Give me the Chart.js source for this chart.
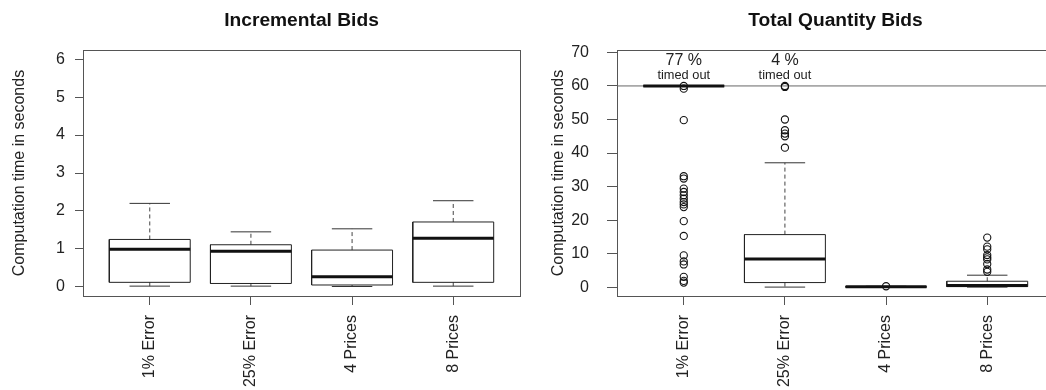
<!DOCTYPE html>
<html>
<head>
<meta charset="utf-8">
<script src="https://cdn.jsdelivr.net/npm/chart.js@4/dist/chart.umd.min.js"></script>
<style>
  html, body { margin: 0; padding: 0; background: #fff; }
  body { width: 1046px; height: 390px; overflow: hidden; position: relative; }
  .panel { position: absolute; top: 0; width: 534px; height: 390px; }
  #left { left: 0; }
  #right { left: 534px; }
</style>
</head>
<body>
<div class="panel" id="left"><canvas id="c1" width="534" height="390"></canvas></div>
<div class="panel" id="right"><canvas id="c2" width="534" height="390"></canvas></div>
<script>
// ---------- DATA ----------
const categories = ['1% Error', '25% Error', '4 Prices', '8 Prices'];

// Incremental Bids (seconds)
const incLower  = [0.02, 0.02, 0.01, 0.02];
const incQ1     = [0.12, 0.09, 0.05, 0.12];
const incMedian = [0.99, 0.94, 0.27, 1.28];
const incQ3     = [1.25, 1.11, 0.97, 1.71];
const incUpper  = [2.20, 1.45, 1.53, 2.27];
const incOutliers = [[], [], [], []];
const incYTicks = [0, 1, 2, 3, 4, 5, 6];

// Total Quantity Bids (seconds)
const tqLower  = [60, 0.05, 0.00, 0.05];
const tqQ1     = [60, 1.40, 0.03, 0.20];
const tqMedian = [60, 8.40, 0.12, 0.50];
const tqQ3     = [60, 15.7, 0.20, 1.80];
const tqUpper  = [60, 37.1, 0.30, 3.60];
const tqOutliers = [
  [60, 59.2, 49.8, 33.1, 32.4, 29.4, 28.4, 27.4, 26.4, 25.4, 24.7, 23.9, 19.7, 15.3, 9.5, 7.7, 6.8, 3.1, 1.9, 1.4],
  [60, 59.7, 50.0, 46.8, 45.8, 45.0, 41.6],
  [0.3],
  [4.6, 5.3, 6.9, 8.3, 8.9, 9.6, 11.3, 12.1, 14.8]
];
const tqTimeoutPct = [77, 4, null, null];
const tqTimeoutLimit = 60;
const tqYTicks = [0, 10, 20, 30, 40, 50, 60, 70];

// ---------- STYLE ----------
const FONT = "'Liberation Sans', Arial, Helvetica, sans-serif";
const BOX_HALF = 0.4;
const CAP_HALF = 0.2;
const X_MIN = 0.34, X_MAX = 4.66;

function boxPts(q1, q3) {
  const p = [];
  categories.forEach((c, i) => {
    const x = i + 1;
    p.push({x: x - BOX_HALF, y: q1[i]}, {x: x + BOX_HALF, y: q1[i]},
           {x: x + BOX_HALF, y: q3[i]}, {x: x - BOX_HALF, y: q3[i]},
           {x: x - BOX_HALF, y: q1[i]}, {x: x, y: null});
  });
  return p;
}
function medPts(med) {
  const p = [];
  categories.forEach((c, i) => {
    const x = i + 1;
    p.push({x: x - BOX_HALF, y: med[i]}, {x: x + BOX_HALF, y: med[i]}, {x: x, y: null});
  });
  return p;
}
function whiskerPts(lo, q1, q3, hi) {
  const p = [];
  categories.forEach((c, i) => {
    const x = i + 1;
    if (hi[i] > q3[i]) p.push({x: x, y: q3[i]}, {x: x, y: hi[i]}, {x: x, y: null});
    if (lo[i] < q1[i]) p.push({x: x, y: q1[i]}, {x: x, y: lo[i]}, {x: x, y: null});
  });
  return p;
}
function capPts(lo, hi) {
  const p = [];
  categories.forEach((c, i) => {
    const x = i + 1;
    p.push({x: x - CAP_HALF, y: hi[i]}, {x: x + CAP_HALF, y: hi[i]}, {x: x, y: null});
    p.push({x: x - CAP_HALF, y: lo[i]}, {x: x + CAP_HALF, y: lo[i]}, {x: x, y: null});
  });
  return p;
}
function outlierPts(out) {
  const p = [];
  out.forEach((arr, i) => arr.forEach(v => p.push({x: i + 1, y: v})));
  return p;
}

const lineBase = { type: 'line', pointRadius: 0, tension: 0, spanGaps: false, fill: false };

function datasets(lo, q1, med, q3, hi, out, extra) {
  const ds = [
    { ...lineBase, label: 'outliers', data: outlierPts(out), showLine: false,
      pointRadius: 3.6, pointBorderWidth: 1.1, pointBorderColor: '#111',
      pointBackgroundColor: 'rgba(0,0,0,0)', pointStyle: 'circle' },
    { ...lineBase, label: 'median', data: medPts(med), borderColor: '#111', borderWidth: 3, borderCapStyle: 'butt' },
    { ...lineBase, label: 'box', data: boxPts(q1, q3), borderColor: '#222', borderWidth: 1, borderJoinStyle: 'miter' },
    { ...lineBase, label: 'caps', data: capPts(lo, hi), borderColor: '#333', borderWidth: 1 },
    { ...lineBase, label: 'whiskers', data: whiskerPts(lo, q1, q3, hi), borderColor: '#444', borderWidth: 1, borderDash: [4, 3] }
  ];
  return ds.concat(extra || []);
}

const framePlugin = {
  id: 'frame',
  beforeDatasetsDraw(chart) {
    const {ctx, chartArea: a} = chart;
    ctx.save();
    ctx.strokeStyle = '#555';
    ctx.lineWidth = 1;
    ctx.strokeRect(Math.round(a.left) + 0.5, Math.round(a.top) + 0.5,
                   Math.round(a.right - a.left), Math.round(a.bottom - a.top));
    ctx.restore();
  }
};

const timeoutPlugin = {
  id: 'timeout',
  afterDatasetsDraw(chart, args, opts) {
    if (!opts.pct) return;
    const {ctx} = chart;
    const xs = chart.scales.x, ys = chart.scales.y;
    const yl = ys.getPixelForValue(opts.limit);
    ctx.save();
    ctx.fillStyle = '#222';
    ctx.textAlign = 'center';
    ctx.textBaseline = 'middle';
    opts.pct.forEach((p, i) => {
      if (p == null) return;
      const x = xs.getPixelForValue(i + 1);
      ctx.font = '16px ' + FONT;
      ctx.fillText(p + ' %', x, yl - 25);
      ctx.font = '12.8px ' + FONT;
      ctx.fillText('timed out', x, yl - 10);
    });
    ctx.restore();
  }
};

function makeChart(id, title, yMin, yMax, yTicks, ds, tickLen, tickPad, titlePad, timeoutOpts) {
  return new Chart(document.getElementById(id), {
    data: { datasets: ds },
    plugins: [framePlugin, timeoutPlugin],
    options: {
      responsive: false,
      animation: false,
      events: [],
      layout: { padding: { left: 0, right: 14, top: 0, bottom: 0 } },
      plugins: {
        legend: { display: false },
        tooltip: { enabled: false },
        title: { display: true, text: title, fullSize: false, color: '#111',
                 font: { family: FONT, size: 19.2, weight: 'bold' },
                 padding: { top: 9.5, bottom: 17.5 } },
        timeout: timeoutOpts || {}
      },
      scales: {
        x: {
          type: 'linear', position: 'bottom', min: X_MIN, max: X_MAX,
          afterBuildTicks: s => { s.ticks = categories.map((c, i) => ({ value: i + 1 })); },
          afterFit: s => { s.height = 94; },
          grid: { drawOnChartArea: false, drawTicks: true, tickLength: 9, tickColor: '#555', tickWidth: 1 },
          border: { display: true, color: '#555', width: 1 },
          ticks: { autoSkip: false, minRotation: 90, maxRotation: 90, padding: 10, color: '#222',
                   font: { family: FONT, size: 16 },
                   callback: (v, i) => categories[i] }
        },
        y: {
          type: 'linear', position: 'left', min: yMin, max: yMax,
          afterBuildTicks: s => { s.ticks = yTicks.map(v => ({ value: v })); },
          afterFit: s => { s.width = 83; },
          grid: { drawOnChartArea: false, drawTicks: true, tickLength: tickLen, tickColor: '#555', tickWidth: 1 },
          border: { display: true, color: '#555', width: 1 },
          ticks: { padding: tickPad, color: '#222', font: { family: FONT, size: 16 } },
          title: { display: true, text: 'Computation time in seconds', color: '#222',
                   font: { family: FONT, size: 16 }, padding: { top: titlePad, bottom: 0 } }
        }
      }
    }
  });
}

makeChart('c1', 'Incremental Bids', -0.24, 6.24, incYTicks,
  datasets(incLower, incQ1, incMedian, incQ3, incUpper, incOutliers),
  8, 10, 10, null);

const refLine = { ...lineBase, label: 'timeout', data: [{x: X_MIN, y: tqTimeoutLimit}, {x: X_MAX, y: tqTimeoutLimit}],
                  borderColor: '#666', borderWidth: 1 };
makeChart('c2', 'Total Quantity Bids', -2.6, 70.7, tqYTicks,
  datasets(tqLower, tqQ1, tqMedian, tqQ3, tqUpper, tqOutliers, [refLine]),
  10, 18, 15.4, { pct: tqTimeoutPct, limit: tqTimeoutLimit });
</script>
</body>
</html>
